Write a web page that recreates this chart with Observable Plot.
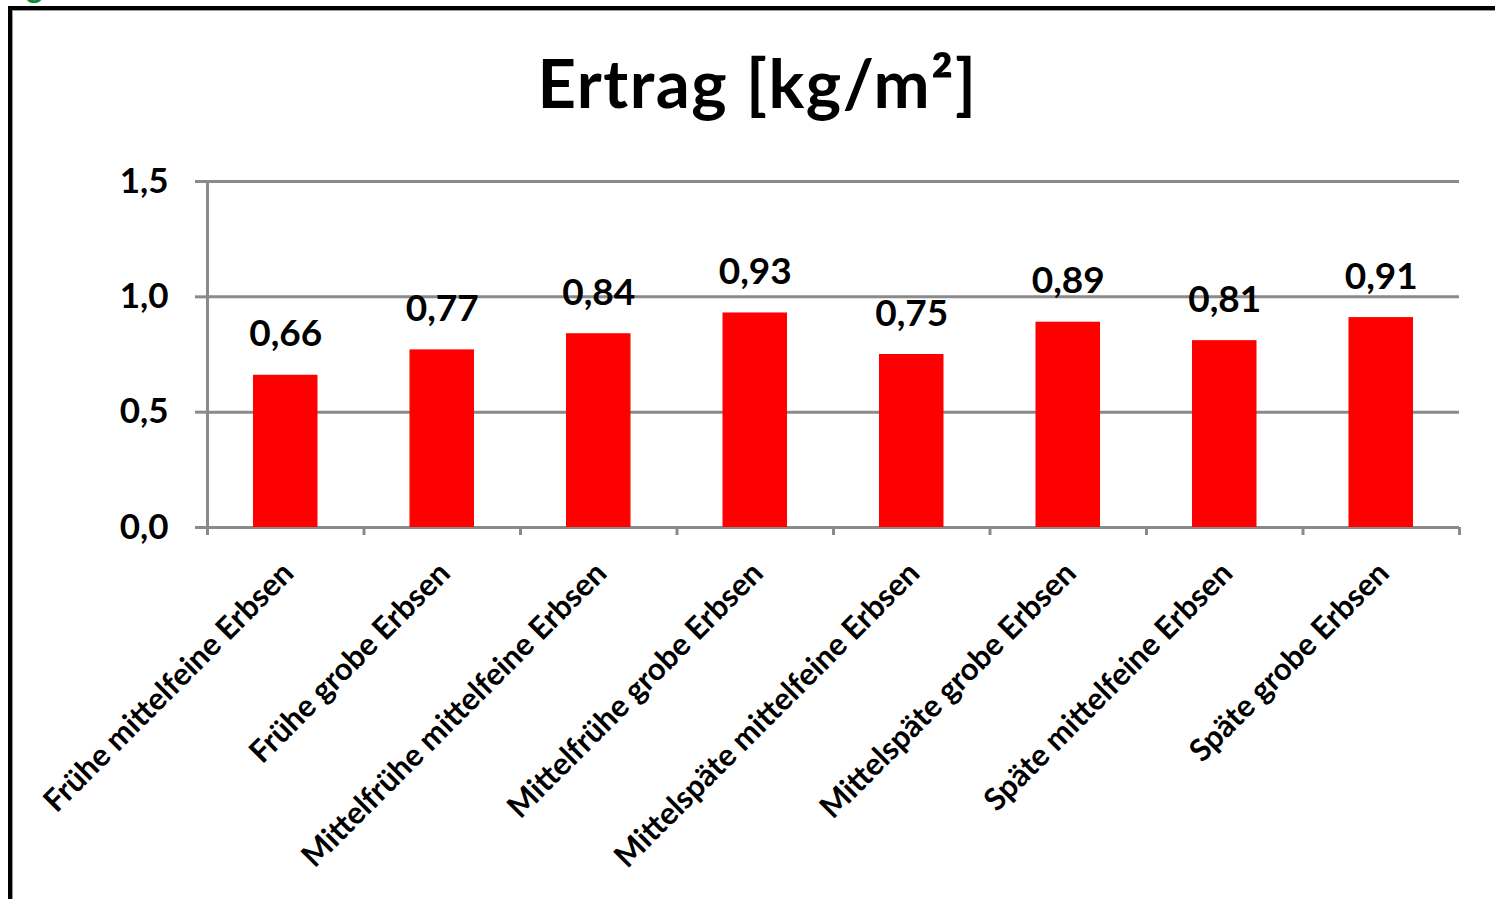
<!DOCTYPE html>
<html><head><meta charset="utf-8">
<script src="https://cdn.jsdelivr.net/npm/d3@7"></script>
<script src="https://cdn.jsdelivr.net/npm/@observablehq/plot@0.6"></script>
<style>
body{margin:0;background:#fff;}
#wrap{position:relative;width:1495px;height:899px;overflow:hidden;font-family:Lato,sans-serif;background:#fff;}
#frame{position:absolute;left:8px;top:6px;width:1600px;height:1000px;border-left:4px solid #000;border-top:4px solid #000;}
#frame2{position:absolute;left:12px;top:10px;width:1600px;height:1000px;border-left:1px solid #999;border-top:1px solid #999;}
#g{position:absolute;left:26px;top:-30px;font-size:32px;font-weight:bold;color:#0a8a3c;line-height:32px;}
#title{position:absolute;left:20px;width:1475px;top:49px;text-align:center;font-weight:bold;font-size:67px;line-height:67px;letter-spacing:1.5px;color:#000;}
#chart{position:absolute;left:0;top:150px;}
</style></head>
<body>
<div id="wrap">
  <div id="g">g</div>
  <div id="frame"></div>
  <div id="frame2"></div>
  <div id="title">Ertrag [kg/m²]</div>
  <div id="chart"></div>
</div>
<script>
const categories = [
  "Frühe mittelfeine Erbsen",
  "Frühe grobe Erbsen",
  "Mittelfrühe mittelfeine Erbsen",
  "Mittelfrühe grobe Erbsen",
  "Mittelspäte mittelfeine Erbsen",
  "Mittelspäte grobe Erbsen",
  "Späte mittelfeine Erbsen",
  "Späte grobe Erbsen"
];
const values = [0.66, 0.77, 0.84, 0.93, 0.75, 0.89, 0.81, 0.91];
const yTicks = [0, 0.5, 1.0, 1.5];

const data = categories.map((c, i) => ({i, c, v: values[i]}));
const fmt1 = d => d.toFixed(1).replace(".", ",");
const fmt2 = d => d.toFixed(2).replace(".", ",");
const grey = "#8a8a8a";

const chart = Plot.plot({
  width: 1495,
  height: 749,
  marginLeft: 207,
  marginRight: 36,
  marginTop: 31,
  marginBottom: 372,
  x: {type: "linear", domain: [0, categories.length], axis: null},
  y: {domain: [0, 1.5], axis: null},
  style: {fontFamily: "Lato, sans-serif", background: "transparent", color: "#000"},
  marks: [
    Plot.ruleY(yTicks, {stroke: grey, strokeWidth: 3}),
    Plot.axisY({ticks: yTicks, tickSize: 12, tickPadding: 27, tickFormat: fmt1, stroke: grey, strokeWidth: 3, fontSize: 35, fontWeight: "bold", label: null}),
    Plot.ruleX([0], {y1: 0, y2: 1.5, stroke: grey, strokeWidth: 3}),
    Plot.axisX({ticks: d3.range(categories.length + 1), tickSize: 8, tickFormat: () => "", stroke: grey, strokeWidth: 3, label: null}),
    Plot.rectY(data, {x1: "i", x2: d => d.i + 1, y: "v", fill: "#ff0000", insetLeft: 46, insetRight: 46}),
    Plot.text(data, {x: d => d.i + 0.5, y: "v", text: d => fmt2(d.v), dy: -29, lineAnchor: "bottom", fontSize: 37, fontWeight: "bold", fill: "#000"}),
    Plot.text(data, {x: d => d.i + 0.5, y: 0, text: "c", rotate: -45, textAnchor: "end", lineAnchor: "top", dx: -6, dy: 32, fontSize: 31, fontWeight: "bold", fill: "#000"})
  ]
});
document.getElementById("chart").appendChild(chart);
</script>
</body></html>
